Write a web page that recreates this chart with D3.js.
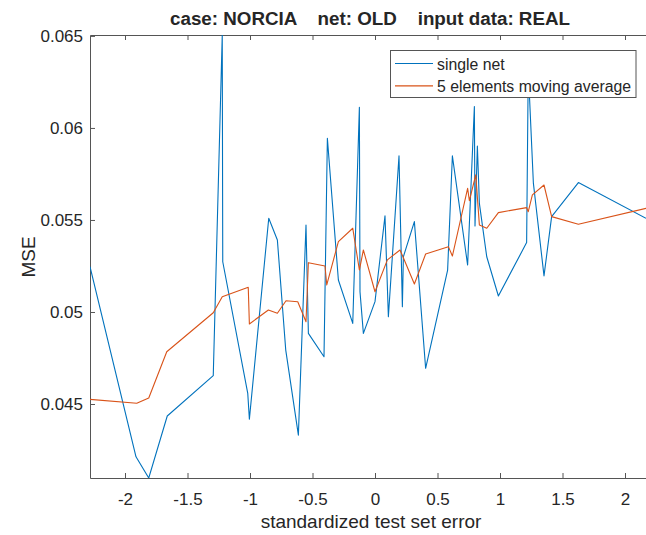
<!DOCTYPE html>
<html>
<head>
<meta charset="utf-8">
<script src="https://cdn.jsdelivr.net/npm/d3@7"></script>
<style>
  body { margin: 0; background: #fff; }
  svg { display: block; }
  text { font-family: Arial, "Liberation Sans", Helvetica, sans-serif; fill: #262626; }
</style>
</head>
<body>
<svg id="chart" width="646" height="535"></svg>
<script>
// MSE of a single network vs. standardized test set error
const singleX = [-2.280, -1.912, -1.810, -1.662, -1.294, -1.222, -1.218, -1.018, -1.005, -0.850,
                 -0.781, -0.714, -0.613, -0.552, -0.533, -0.408, -0.381, -0.293, -0.178, -0.125,
                 -0.120, -0.093, 0.000, 0.080, 0.107, 0.192, 0.219, 0.227, 0.315, 0.405,
                 0.581, 0.619, 0.741, 0.795, 0.800, 0.819, 0.835, 0.894, 0.987, 1.213,
                 1.226, 1.267, 1.352, 1.413, 1.627, 2.168];
const singleMSE = [0.05246, 0.04213, 0.04098, 0.04435, 0.04654, 0.06505, 0.05273, 0.04558, 0.04417, 0.05509,
                   0.05391, 0.04793, 0.04331, 0.05473, 0.04884, 0.04757, 0.05944, 0.05174, 0.04938, 0.06112,
                   0.05110, 0.04884, 0.05056, 0.05522, 0.04974, 0.05848, 0.05029, 0.05300, 0.05491, 0.04694,
                   0.05228, 0.05848, 0.05255, 0.06116, 0.05467, 0.05902, 0.05590, 0.05300, 0.05087, 0.05377,
                   0.06320, 0.05700, 0.05196, 0.05518, 0.05703, 0.05509];

// 5 elements moving average of the same curve
const avgX = [-2.280, -1.906, -1.810, -1.666, -1.294, -1.222, -1.014, -1.005, -0.853, -0.781,
              -0.712, -0.618, -0.552, -0.533, -0.400, -0.386, -0.293, -0.178, -0.125, -0.093,
              0.000, 0.099, 0.200, 0.221, 0.315, 0.405, 0.587, 0.619, 0.741, 0.755,
              0.806, 0.835, 0.894, 0.987, 1.213, 1.226, 1.259, 1.352, 1.413, 1.627, 2.168];
const avgMSE = [0.04525, 0.04504, 0.04533, 0.04784, 0.04996, 0.05083, 0.05134, 0.04935, 0.05011, 0.04993,
                0.05061, 0.05056, 0.04947, 0.05268, 0.05250, 0.05147, 0.05382, 0.05455, 0.05228, 0.05337,
                0.05110, 0.05283, 0.05337, 0.05304, 0.05152, 0.05315, 0.05355, 0.05304, 0.05672, 0.05605,
                0.05745, 0.05473, 0.05455, 0.05540, 0.05567, 0.05545, 0.05636, 0.05690, 0.05518, 0.05477, 0.05563];

const xTicks = [-2, -1.5, -1, -0.5, 0, 0.5, 1, 1.5, 2];
const yTicks = [0.045, 0.05, 0.055, 0.06, 0.065];
const seriesNames = ["single net", "5 elements moving average"];
const seriesColors = ["#0072BD", "#D95319"];
const titleText = "case: NORCIA    net: OLD    input data: REAL";
const xLabel = "standardized test set error";
const yLabel = "MSE";

(function draw() {
  const svg = d3.select("#chart");
  const plotLeft = 90, plotRight = 646, plotTop = 35, plotBottom = 478;

  const x = d3.scaleLinear().domain([d3.min(singleX), d3.max(singleX)]).range([plotLeft, plotRight]);
  const y = d3.scaleLinear().domain([d3.min(singleMSE), d3.max(singleMSE)]).range([plotBottom, plotTop]);

  svg.append("defs").append("clipPath").attr("id", "plot-clip")
    .append("rect").attr("x", plotLeft).attr("y", plotTop)
    .attr("width", plotRight - plotLeft).attr("height", plotBottom - plotTop);

  const axisColor = "#555";
  const fmt = d => String(d);

  // bottom axis with inward ticks
  const gx = svg.append("g").attr("transform", `translate(0,${plotBottom})`)
    .call(d3.axisBottom(x).tickValues(xTicks).tickFormat(fmt).tickSize(-5).tickSizeOuter(0).tickPadding(15));
  // top edge ticks (no labels)
  const gxt = svg.append("g").attr("transform", `translate(0,${plotTop})`)
    .call(d3.axisTop(x).tickValues(xTicks).tickFormat("").tickSize(-5).tickSizeOuter(0));
  // left axis
  const gy = svg.append("g").attr("transform", `translate(${plotLeft},0)`)
    .call(d3.axisLeft(y).tickValues(yTicks).tickFormat(fmt).tickSize(-5).tickSizeOuter(0).tickPadding(7));

  [gx, gxt, gy].forEach(g => {
    g.attr("color", axisColor);
    g.selectAll("text").attr("font-size", 17).style("fill", "#262626")
      .attr("font-family", 'Arial, "Liberation Sans", Helvetica, sans-serif');
    g.select(".domain").attr("stroke-width", 1);
  });

  // data lines
  const plot = svg.append("g").attr("clip-path", "url(#plot-clip)");
  const line = d3.line().x(d => x(d[0])).y(d => y(d[1]));
  plot.append("path")
    .datum(singleX.map((v, i) => [v, singleMSE[i]]))
    .attr("d", line).attr("fill", "none")
    .attr("stroke", seriesColors[0]).attr("stroke-width", 1.1).attr("stroke-linejoin", "round");
  plot.append("path")
    .datum(avgX.map((v, i) => [v, avgMSE[i]]))
    .attr("d", line).attr("fill", "none")
    .attr("stroke", seriesColors[1]).attr("stroke-width", 1.1).attr("stroke-linejoin", "round");

  // title and axis labels
  svg.append("text").attr("x", 370).attr("y", 25).attr("text-anchor", "middle")
    .attr("font-size", 18.8).attr("font-weight", "bold").style("white-space", "pre").text(titleText);
  svg.append("text").attr("x", 371).attr("y", 528).attr("text-anchor", "middle")
    .attr("font-size", 19).text(xLabel);
  svg.append("text").attr("transform", "translate(35,257) rotate(-90)").attr("text-anchor", "middle")
    .attr("font-size", 19).text(yLabel);

  // legend
  const lg = svg.append("g");
  lg.append("rect").attr("x", 390.5).attr("y", 50.5).attr("width", 245.5).attr("height", 47)
    .attr("fill", "#fff").attr("stroke", "#555").attr("stroke-width", 1);
  seriesNames.forEach((name, i) => {
    const ly = 63.5 + i * 22.3;
    lg.append("line").attr("x1", 395).attr("x2", 433).attr("y1", ly).attr("y2", ly)
      .attr("stroke", seriesColors[i]).attr("stroke-width", 1.2);
    lg.append("text").attr("x", 437).attr("y", ly + 6.5).attr("font-size", 15.8).text(name);
  });
})();
</script>
</body>
</html>
